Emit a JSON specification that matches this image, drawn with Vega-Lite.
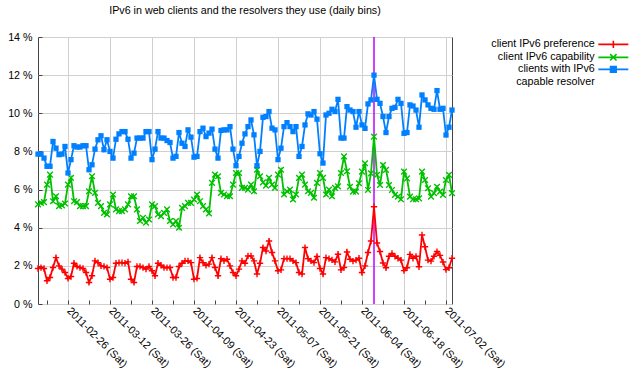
{
  "$schema": "https://vega.github.io/schema/vega-lite/v6.json",
  "autosize": {"type": "none"},
  "padding": {"left": 38, "top": 37, "right": 188, "bottom": 80},
  "width": 414,
  "height": 267,
  "title": {"text": "IPv6 in web clients and the resolvers they use (daily bins)", "fontSize": 10.7, "font": "Liberation Sans", "fontWeight": "normal", "offset": 14, "color": "#000000"},
  "config": {
    "view": {"stroke": "#444444", "strokeWidth": 1},
    "font": "Liberation Sans",
    "axis": {"labelFont": "Liberation Sans", "labelFontSize": 10.7, "labelColor": "#000000", "gridColor": "#d0d0d0", "gridWidth": 1, "tickColor": "#444444", "domain": false, "title": null}
  },
  "datasets": {
    "main": [
      {"date": "2011-02-16", "pref": 1.86, "cap": 5.22, "res": 7.86},
      {"date": "2011-02-17", "pref": 1.91, "cap": 5.30, "res": 7.86},
      {"date": "2011-02-18", "pref": 1.86, "cap": 5.34, "res": 7.65},
      {"date": "2011-02-19", "pref": 1.22, "cap": 6.26, "res": 7.22},
      {"date": "2011-02-20", "pref": 1.39, "cap": 6.78, "res": 7.22},
      {"date": "2011-02-21", "pref": 1.91, "cap": 5.39, "res": 8.52},
      {"date": "2011-02-22", "pref": 2.43, "cap": 5.65, "res": 8.17},
      {"date": "2011-02-23", "pref": 2.00, "cap": 5.13, "res": 7.83},
      {"date": "2011-02-24", "pref": 1.83, "cap": 5.17, "res": 7.86},
      {"date": "2011-02-25", "pref": 1.65, "cap": 5.27, "res": 8.26},
      {"date": "2011-02-26", "pref": 1.34, "cap": 6.26, "res": 6.87},
      {"date": "2011-02-27", "pref": 1.44, "cap": 6.61, "res": 7.57},
      {"date": "2011-02-28", "pref": 2.14, "cap": 5.39, "res": 8.30},
      {"date": "2011-03-01", "pref": 1.97, "cap": 5.34, "res": 8.23},
      {"date": "2011-03-02", "pref": 1.91, "cap": 5.13, "res": 8.23},
      {"date": "2011-03-03", "pref": 1.86, "cap": 5.13, "res": 8.30},
      {"date": "2011-03-04", "pref": 1.65, "cap": 5.13, "res": 8.30},
      {"date": "2011-03-05", "pref": 1.13, "cap": 5.91, "res": 7.04},
      {"date": "2011-03-06", "pref": 1.48, "cap": 6.70, "res": 7.30},
      {"date": "2011-03-07", "pref": 2.26, "cap": 5.83, "res": 8.12},
      {"date": "2011-03-08", "pref": 2.17, "cap": 5.30, "res": 8.61},
      {"date": "2011-03-09", "pref": 2.00, "cap": 5.13, "res": 8.82},
      {"date": "2011-03-10", "pref": 1.97, "cap": 4.78, "res": 8.09},
      {"date": "2011-03-11", "pref": 1.91, "cap": 4.70, "res": 8.61},
      {"date": "2011-03-12", "pref": 1.30, "cap": 5.22, "res": 8.00},
      {"date": "2011-03-13", "pref": 1.39, "cap": 5.74, "res": 7.65},
      {"date": "2011-03-14", "pref": 2.14, "cap": 4.96, "res": 8.64},
      {"date": "2011-03-15", "pref": 2.17, "cap": 4.87, "res": 8.92},
      {"date": "2011-03-16", "pref": 2.17, "cap": 4.87, "res": 9.04},
      {"date": "2011-03-17", "pref": 2.14, "cap": 4.96, "res": 9.04},
      {"date": "2011-03-18", "pref": 2.21, "cap": 5.22, "res": 8.64},
      {"date": "2011-03-19", "pref": 1.30, "cap": 5.65, "res": 7.65},
      {"date": "2011-03-20", "pref": 1.13, "cap": 5.65, "res": 7.91},
      {"date": "2011-03-21", "pref": 1.97, "cap": 4.96, "res": 8.70},
      {"date": "2011-03-22", "pref": 1.97, "cap": 4.35, "res": 8.70},
      {"date": "2011-03-23", "pref": 1.91, "cap": 4.52, "res": 8.70},
      {"date": "2011-03-24", "pref": 1.83, "cap": 4.26, "res": 9.04},
      {"date": "2011-03-25", "pref": 1.97, "cap": 4.43, "res": 9.04},
      {"date": "2011-03-26", "pref": 1.74, "cap": 5.22, "res": 7.57},
      {"date": "2011-03-27", "pref": 1.48, "cap": 5.13, "res": 8.12},
      {"date": "2011-03-28", "pref": 2.14, "cap": 4.70, "res": 9.04},
      {"date": "2011-03-29", "pref": 2.03, "cap": 4.61, "res": 8.70},
      {"date": "2011-03-30", "pref": 1.91, "cap": 4.78, "res": 8.70},
      {"date": "2011-03-31", "pref": 1.91, "cap": 4.96, "res": 8.57},
      {"date": "2011-04-01", "pref": 1.91, "cap": 4.35, "res": 8.47},
      {"date": "2011-04-02", "pref": 1.39, "cap": 4.17, "res": 7.65},
      {"date": "2011-04-03", "pref": 1.39, "cap": 4.35, "res": 7.74},
      {"date": "2011-04-04", "pref": 1.97, "cap": 4.00, "res": 8.99},
      {"date": "2011-04-05", "pref": 2.14, "cap": 5.04, "res": 8.43},
      {"date": "2011-04-06", "pref": 2.26, "cap": 5.13, "res": 8.26},
      {"date": "2011-04-07", "pref": 2.26, "cap": 5.30, "res": 9.13},
      {"date": "2011-04-08", "pref": 2.17, "cap": 5.30, "res": 8.75},
      {"date": "2011-04-09", "pref": 1.30, "cap": 5.48, "res": 7.70},
      {"date": "2011-04-10", "pref": 1.34, "cap": 5.74, "res": 7.74},
      {"date": "2011-04-11", "pref": 2.43, "cap": 5.39, "res": 9.04},
      {"date": "2011-04-12", "pref": 2.17, "cap": 5.13, "res": 9.22},
      {"date": "2011-04-13", "pref": 2.03, "cap": 4.96, "res": 8.78},
      {"date": "2011-04-14", "pref": 2.09, "cap": 4.75, "res": 8.96},
      {"date": "2011-04-15", "pref": 2.43, "cap": 6.35, "res": 9.17},
      {"date": "2011-04-16", "pref": 1.91, "cap": 6.78, "res": 8.12},
      {"date": "2011-04-17", "pref": 1.48, "cap": 6.70, "res": 7.65},
      {"date": "2011-04-18", "pref": 2.38, "cap": 5.83, "res": 9.10},
      {"date": "2011-04-19", "pref": 2.26, "cap": 5.74, "res": 9.13},
      {"date": "2011-04-20", "pref": 2.35, "cap": 5.65, "res": 9.13},
      {"date": "2011-04-21", "pref": 2.00, "cap": 5.65, "res": 9.30},
      {"date": "2011-04-22", "pref": 1.65, "cap": 6.26, "res": 8.12},
      {"date": "2011-04-23", "pref": 1.48, "cap": 6.87, "res": 7.25},
      {"date": "2011-04-24", "pref": 1.83, "cap": 6.87, "res": 7.74},
      {"date": "2011-04-25", "pref": 2.26, "cap": 6.09, "res": 8.43},
      {"date": "2011-04-26", "pref": 2.14, "cap": 6.09, "res": 8.92},
      {"date": "2011-04-27", "pref": 2.52, "cap": 6.00, "res": 9.30},
      {"date": "2011-04-28", "pref": 2.52, "cap": 6.26, "res": 9.65},
      {"date": "2011-04-29", "pref": 2.26, "cap": 5.91, "res": 8.87},
      {"date": "2011-04-30", "pref": 1.57, "cap": 7.04, "res": 7.25},
      {"date": "2011-05-01", "pref": 2.14, "cap": 6.70, "res": 8.00},
      {"date": "2011-05-02", "pref": 2.96, "cap": 6.38, "res": 9.79},
      {"date": "2011-05-03", "pref": 2.78, "cap": 6.21, "res": 9.83},
      {"date": "2011-05-04", "pref": 3.30, "cap": 6.61, "res": 10.09},
      {"date": "2011-05-05", "pref": 2.70, "cap": 6.26, "res": 9.22},
      {"date": "2011-05-06", "pref": 2.26, "cap": 6.09, "res": 9.13},
      {"date": "2011-05-07", "pref": 1.74, "cap": 6.78, "res": 7.57},
      {"date": "2011-05-08", "pref": 1.79, "cap": 7.04, "res": 8.17},
      {"date": "2011-05-09", "pref": 2.38, "cap": 5.74, "res": 9.30},
      {"date": "2011-05-10", "pref": 2.38, "cap": 5.91, "res": 9.51},
      {"date": "2011-05-11", "pref": 2.38, "cap": 6.00, "res": 9.30},
      {"date": "2011-05-12", "pref": 2.26, "cap": 5.48, "res": 9.04},
      {"date": "2011-05-13", "pref": 2.17, "cap": 5.74, "res": 9.30},
      {"date": "2011-05-14", "pref": 1.65, "cap": 6.61, "res": 7.74},
      {"date": "2011-05-15", "pref": 1.57, "cap": 6.78, "res": 8.26},
      {"date": "2011-05-16", "pref": 2.96, "cap": 6.26, "res": 9.39},
      {"date": "2011-05-17", "pref": 2.38, "cap": 5.91, "res": 9.97},
      {"date": "2011-05-18", "pref": 2.26, "cap": 5.83, "res": 9.91},
      {"date": "2011-05-19", "pref": 2.17, "cap": 5.57, "res": 10.09},
      {"date": "2011-05-20", "pref": 2.49, "cap": 6.35, "res": 9.69},
      {"date": "2011-05-21", "pref": 1.86, "cap": 6.87, "res": 7.88},
      {"date": "2011-05-22", "pref": 1.57, "cap": 6.61, "res": 7.39},
      {"date": "2011-05-23", "pref": 2.43, "cap": 5.74, "res": 9.91},
      {"date": "2011-05-24", "pref": 2.38, "cap": 6.00, "res": 10.00},
      {"date": "2011-05-25", "pref": 2.31, "cap": 5.65, "res": 10.21},
      {"date": "2011-05-26", "pref": 2.21, "cap": 6.09, "res": 10.09},
      {"date": "2011-05-27", "pref": 2.61, "cap": 6.17, "res": 10.73},
      {"date": "2011-05-28", "pref": 1.79, "cap": 6.87, "res": 8.70},
      {"date": "2011-05-29", "pref": 1.91, "cap": 7.74, "res": 8.70},
      {"date": "2011-05-30", "pref": 2.73, "cap": 6.96, "res": 10.35},
      {"date": "2011-05-31", "pref": 2.35, "cap": 6.15, "res": 10.17},
      {"date": "2011-06-01", "pref": 2.25, "cap": 5.89, "res": 10.09},
      {"date": "2011-06-02", "pref": 2.30, "cap": 5.89, "res": 9.27},
      {"date": "2011-06-03", "pref": 2.40, "cap": 6.33, "res": 10.09},
      {"date": "2011-06-04", "pref": 1.65, "cap": 6.94, "res": 9.39},
      {"date": "2011-06-05", "pref": 2.00, "cap": 7.38, "res": 9.21},
      {"date": "2011-06-06", "pref": 2.70, "cap": 5.98, "res": 10.49},
      {"date": "2011-06-07", "pref": 3.30, "cap": 6.85, "res": 10.70},
      {"date": "2011-06-08", "pref": 5.10, "cap": 8.78, "res": 12.00},
      {"date": "2011-06-09", "pref": 3.20, "cap": 6.77, "res": 10.73},
      {"date": "2011-06-10", "pref": 2.75, "cap": 6.24, "res": 10.52},
      {"date": "2011-06-11", "pref": 2.15, "cap": 7.29, "res": 9.83},
      {"date": "2011-06-12", "pref": 1.90, "cap": 7.03, "res": 8.99},
      {"date": "2011-06-13", "pref": 2.50, "cap": 6.24, "res": 9.83},
      {"date": "2011-06-14", "pref": 2.65, "cap": 5.98, "res": 10.26},
      {"date": "2011-06-15", "pref": 2.50, "cap": 5.72, "res": 10.31},
      {"date": "2011-06-16", "pref": 2.40, "cap": 5.63, "res": 10.73},
      {"date": "2011-06-17", "pref": 2.30, "cap": 5.49, "res": 10.52},
      {"date": "2011-06-18", "pref": 1.75, "cap": 6.94, "res": 8.95},
      {"date": "2011-06-19", "pref": 1.90, "cap": 6.59, "res": 8.99},
      {"date": "2011-06-20", "pref": 2.60, "cap": 5.63, "res": 10.44},
      {"date": "2011-06-21", "pref": 2.40, "cap": 5.49, "res": 10.38},
      {"date": "2011-06-22", "pref": 2.50, "cap": 5.49, "res": 10.17},
      {"date": "2011-06-23", "pref": 1.95, "cap": 5.54, "res": 9.27},
      {"date": "2011-06-24", "pref": 3.62, "cap": 6.94, "res": 10.96},
      {"date": "2011-06-25", "pref": 3.00, "cap": 6.50, "res": 10.70},
      {"date": "2011-06-26", "pref": 2.30, "cap": 6.07, "res": 10.44},
      {"date": "2011-06-27", "pref": 2.25, "cap": 5.63, "res": 10.26},
      {"date": "2011-06-28", "pref": 2.50, "cap": 5.81, "res": 10.21},
      {"date": "2011-06-29", "pref": 2.75, "cap": 6.15, "res": 11.19},
      {"date": "2011-06-30", "pref": 2.55, "cap": 5.89, "res": 10.21},
      {"date": "2011-07-01", "pref": 2.20, "cap": 5.72, "res": 10.26},
      {"date": "2011-07-02", "pref": 1.80, "cap": 6.50, "res": 8.86},
      {"date": "2011-07-03", "pref": 1.90, "cap": 6.77, "res": 9.27},
      {"date": "2011-07-04", "pref": 2.40, "cap": 5.81, "res": 10.17}
    ]
  },
  "data": {"name": "main"},
  "encoding": {
    "x": {
      "field": "date", "type": "temporal",
      "scale": {"type": "utc", "domain": [{"year": 2011, "month": 2, "date": 16, "utc": true}, {"year": 2011, "month": 7, "date": 4, "utc": true}]},
      "axis": {
        "values": [
          {"year": 2011, "month": 2, "date": 19, "utc": true},
          {"year": 2011, "month": 2, "date": 26, "utc": true},
          {"year": 2011, "month": 3, "date": 5, "utc": true},
          {"year": 2011, "month": 3, "date": 12, "utc": true},
          {"year": 2011, "month": 3, "date": 19, "utc": true},
          {"year": 2011, "month": 3, "date": 26, "utc": true},
          {"year": 2011, "month": 4, "date": 2, "utc": true},
          {"year": 2011, "month": 4, "date": 9, "utc": true},
          {"year": 2011, "month": 4, "date": 16, "utc": true},
          {"year": 2011, "month": 4, "date": 23, "utc": true},
          {"year": 2011, "month": 4, "date": 30, "utc": true},
          {"year": 2011, "month": 5, "date": 7, "utc": true},
          {"year": 2011, "month": 5, "date": 14, "utc": true},
          {"year": 2011, "month": 5, "date": 21, "utc": true},
          {"year": 2011, "month": 5, "date": 28, "utc": true},
          {"year": 2011, "month": 6, "date": 4, "utc": true},
          {"year": 2011, "month": 6, "date": 11, "utc": true},
          {"year": 2011, "month": 6, "date": 18, "utc": true},
          {"year": 2011, "month": 6, "date": 25, "utc": true},
          {"year": 2011, "month": 7, "date": 2, "utc": true}
        ],
        "labelExpr": "round((datum.value - utc(2011,1,26)) / 604800000) % 2 == 0 ? utcFormat(datum.value, '%Y-%m-%d (%a)') : ''",
        "labelAngle": 45, "labelAlign": "left", "labelBaseline": "middle",
        "labelPadding": 9, "tickSize": -4,
        "labelOverlap": false, "labelFlush": false,
        "grid": true,
        "gridOpacity": {"condition": {"test": "round((datum.value - utc(2011,1,26)) / 604800000) % 2 == 0", "value": 1}, "value": 0}
      }
    },
    "y": {"field": "value", "type": "quantitative", "scale": {"domain": [0, 14]},
      "axis": {"values": [0, 2, 4, 6, 8, 10, 12, 14], "labelExpr": "datum.value + ' %'", "grid": true, "tickSize": -4, "labelPadding": 10, "labelOverlap": false, "labelFlush": false}},
    "color": {
      "field": "series", "type": "nominal",
      "scale": {"domain": ["pref", "cap", "res"], "range": ["#ff0000", "#00c000", "#0080ff"]},
      "legend": {
        "orient": "none", "legendX": 570, "legendY": 2, "title": null,
        "labelExpr": "datum.value == 'pref' ? 'client IPv6 preference' : datum.value == 'cap' ? 'client IPv6 capability' : ['clients with IPv6', 'capable resolver']",
        "labelAlign": "right", "labelOffset": -24, "labelFontSize": 10.7, "labelFont": "Liberation Sans", "labelColor": "#000000",
        "symbolSize": 64, "symbolStrokeWidth": 1.6, "rowPadding": -2.5,
        "encode": {
          "symbols": {"update": {
            "shape": {"signal": "datum.value === 'pref' ? 'M-3.75,0H3.75M0,-0.9V0.9' : datum.value === 'cap' ? 'M-3.75,0H3.75M-0.8,-0.8L0.8,0.8M-0.8,0.8L0.8,-0.8' : 'M-3.75,0H3.75M-0.7,-0.7H0.7V0.7H-0.7Z'"},
            "fill": {"signal": "datum.value === 'res' ? '#0080ff' : 'transparent'"},
            "stroke": {"signal": "datum.value === 'pref' ? '#ff0000' : datum.value === 'cap' ? '#00c000' : '#0080ff'"},
            "strokeWidth": {"value": 1.6},
            "size": {"value": 64}
          }}
        }
      }
    }
  },
  "transform": [{"fold": ["pref", "cap", "res"], "as": ["series", "value"]}],
  "layer": [
    {
      "data": {"values": [{"date": "2011-06-08"}]},
      "transform": [],
      "mark": {"type": "rule", "color": "#c000ff", "strokeWidth": 1.5},
      "encoding": {"y": null, "color": null}
    },
    {
      "mark": {"type": "line", "strokeWidth": 1.8}
    },
    {
      "transform": [{"filter": "datum.series == 'pref'"}],
      "mark": {"type": "point", "filled": false, "strokeWidth": 1.4, "size": 40, "opacity": 1, "shape": "M-1,0L1,0M0,-1L0,1"}
    },
    {
      "transform": [{"filter": "datum.series == 'cap'"}],
      "mark": {"type": "point", "filled": false, "strokeWidth": 1.4, "size": 32, "opacity": 1, "shape": "M-1,-1L1,1M-1,1L1,-1"}
    },
    {
      "transform": [{"filter": "datum.series == 'res'"}],
      "mark": {"type": "point", "filled": true, "size": 28, "opacity": 1, "shape": "square"}
    }
  ]
}
